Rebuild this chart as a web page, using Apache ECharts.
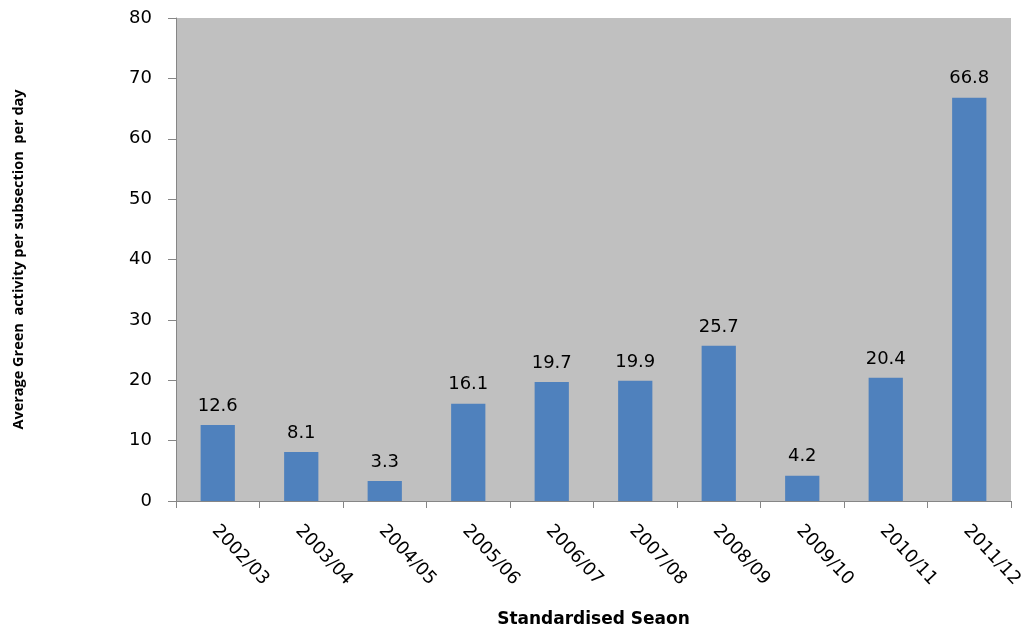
<!DOCTYPE html>
<html>
<head>
<meta charset="utf-8">
<script src="https://cdn.jsdelivr.net/npm/echarts@6/dist/echarts.min.js"></script>
<style>
  html, body { margin: 0; padding: 0; background: #ffffff; }
  #chart { width: 1024px; height: 633px; }
</style>
</head>
<body>
<div id="chart"></div>
<script>
// Seasons on the category axis
const seasons = ['2002/03', '2003/04', '2004/05', '2005/06', '2006/07',
                 '2007/08', '2008/09', '2009/10', '2010/11', '2011/12'];
// Average green activity per subsection per day
const greenActivity = [12.6, 8.1, 3.3, 16.1, 19.7, 19.9, 25.7, 4.2, 20.4, 66.8];
// Value axis range
const yMin = 0, yMax = 80, yStep = 10;

const chart = echarts.init(document.getElementById('chart'));
const tickFont = 'DejaVu Sans, Verdana, sans-serif';

chart.setOption({
  animation: false,
  grid: {
    left: 176, right: 13, top: 18, bottom: 132,
    outerBoundsMode: 'none', containLabel: false,
    show: true, backgroundColor: '#c0c0c0', borderWidth: 0
  },
  xAxis: {
    type: 'category',
    data: seasons,
    name: 'Standardised Seaon',
    nameLocation: 'middle',
    nameGap: 110,
    nameTextStyle: { fontFamily: 'DejaVu Sans, sans-serif', fontWeight: 'bold', fontSize: 17, color: '#000' },
    axisLine: { lineStyle: { color: '#868686', width: 1 } },
    axisTick: { show: true, alignWithLabel: false, length: 7, lineStyle: { color: '#868686' } },
    axisLabel: {
      interval: 0, rotate: -47, margin: 24,
      verticalAlign: 'top', lineHeight: 8,
      fontFamily: tickFont, fontSize: 18, color: '#000'
    }
  },
  yAxis: {
    type: 'value',
    min: yMin, max: yMax, interval: yStep,
    name: 'Average Green  activity per subsection  per day',
    nameLocation: 'middle',
    nameGap: 150,
    nameRotate: 90,
    nameTextStyle: { fontFamily: 'Open Sans, sans-serif', fontWeight: 'bold', fontSize: 14.5, color: '#000' },
    axisLine: { show: true, lineStyle: { color: '#868686', width: 1 } },
    axisTick: { show: true, length: 8, lineStyle: { color: '#868686' } },
    axisLabel: { margin: 24, fontFamily: tickFont, fontSize: 18, color: '#000' },
    splitLine: { show: false }
  },
  series: [{
    type: 'bar',
    data: greenActivity,
    barWidth: '41%',
    itemStyle: { color: '#4f81bd' },
    label: {
      show: true, position: 'top', distance: 10,
      fontFamily: tickFont, fontSize: 18, color: '#000',
      formatter: p => p.value.toFixed(1)
    }
  }]
});
</script>
</body>
</html>
